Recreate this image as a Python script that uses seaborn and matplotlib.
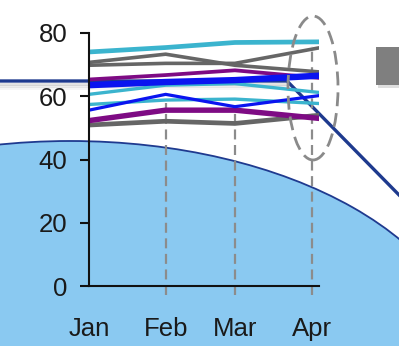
import pandas as pd
import matplotlib
matplotlib.use("Agg")
import matplotlib.pyplot as plt
from matplotlib.patches import Ellipse, Rectangle
from matplotlib.lines import Line2D
import seaborn as sns

# ---- data -------------------------------------------------------------
dates = pd.to_datetime(["2021-01-01", "2021-02-01", "2021-03-01", "2021-04-04"])
month_ticks = pd.to_datetime(["2021-01-01", "2021-02-01", "2021-03-01", "2021-04-01"])
month_labels = ["Jan", "Feb", "Mar", "Apr"]

gray_low = [50.9, 52.1, 51.4, 54.0]
gray_a = [70.7, 73.3, 69.8, 67.7]
gray_b = [69.8, 70.4, 70.4, 75.3]
cyan_top = [74.0, 75.4, 77.0, 77.2]
cyan_mid = [60.6, 63.5, 64.0, 61.2]
cyan_low = [57.4, 58.8, 59.1, 57.7]
purple_top = [65.3, 66.7, 68.2, 65.8]
purple_low = [52.3, 55.6, 55.6, 53.0]
blue_low = [55.6, 60.6, 56.7, 60.2]
blue_top = [63.5, 64.5, 65.1, 66.5]

# value at which each dashed month marker stops (Feb, Mar, Apr)
drop_tops = [58.0, 55.0, 76.0]

series = {
    "gray_low": gray_low, "gray_a": gray_a, "gray_b": gray_b,
    "cyan_top": cyan_top, "cyan_mid": cyan_mid, "cyan_low": cyan_low,
    "purple_top": purple_top, "purple_low": purple_low,
    "blue_low": blue_low, "blue_top": blue_top,
}
GRAY, CYAN, PURPLE, BLUE = "#666666", "#3BB4CE", "#7E0B84", "#0A14F0"
palette = {
    "gray_low": GRAY, "gray_a": GRAY, "gray_b": GRAY,
    "cyan_top": CYAN, "cyan_mid": CYAN, "cyan_low": CYAN,
    "purple_top": PURPLE, "purple_low": PURPLE,
    "blue_low": BLUE, "blue_top": BLUE,
}
widths = {
    "gray_low": 3.4, "gray_a": 2.6, "gray_b": 2.6,
    "cyan_top": 3.4, "cyan_mid": 2.4, "cyan_low": 2.4,
    "purple_top": 2.7, "purple_low": 3.9,
    "blue_low": 2.3, "blue_top": 4.6,
}

df = pd.concat(
    [pd.DataFrame({"date": dates, "value": v, "series": k}) for k, v in series.items()],
    ignore_index=True,
)

# ---- figure -----------------------------------------------------------
sns.set_style("white")
plt.rcParams["font.family"] = ["Liberation Sans", "DejaVu Sans"]

W, H = 399, 346
fig = plt.figure(figsize=(W / 100, H / 100), dpi=100)
fig.patch.set_facecolor("white")


def fx(x):
    return x / W


def fy(y):
    return 1 - y / H


# large light-blue disc behind the chart
fig.add_artist(Ellipse((fx(70), fy(368)), 800 / W, 454 / H, transform=fig.transFigure,
                       facecolor="#8AC9F1", edgecolor="#1F3A8F", lw=1.3, zorder=-3))

# navy guide line with a soft shadow under its level part
for off, a in [(3, 0.22), (5, 0.14), (7, 0.07)]:
    fig.add_artist(Line2D([fx(0), fx(287)], [fy(81 + off), fy(81 + off)],
                          transform=fig.transFigure, color="#808080", lw=2.2,
                          alpha=a, zorder=-2))
fig.add_artist(Line2D([fx(0), fx(287), fx(402)], [fy(81), fy(81), fy(198)],
                      transform=fig.transFigure, color="#1E3A8E", lw=2.4,
                      solid_joinstyle="miter", zorder=-1))

ax = fig.add_axes([fx(89), fy(286), (319 - 89) / W, (286 - 33) / H])
ax.patch.set_alpha(0)

ax.vlines(month_ticks[1:], -3, drop_tops, colors="#8C8C8C", lw=1.6,
          linestyles=(0, (4.5, 2.5)), clip_on=False, zorder=1)

sns.lineplot(data=df, x="date", y="value", hue="series", palette=palette,
             size="series", sizes=widths, hue_order=list(series),
             size_order=list(series), legend=False, sort=False, ax=ax, zorder=2)

ax.set_xlim(dates[0], dates[-1])
ax.set_ylim(0, 80)
ax.set_xticks(month_ticks)
ax.set_xticklabels(month_labels)
ax.set_yticks([0, 20, 40, 60, 80])
ax.set_xlabel("")
ax.set_ylabel("")

for s in ["top", "right"]:
    ax.spines[s].set_visible(False)
for s in ["left", "bottom"]:
    ax.spines[s].set_color("#111111")
    ax.spines[s].set_linewidth(1.5)

ax.tick_params(axis="y", direction="out", length=6.5, width=1.5, color="#111111",
               pad=9, labelsize=18.5, labelcolor="#1a1a1a", left=True)
ax.tick_params(axis="x", length=0, pad=22, labelsize=18.5, labelcolor="#1a1a1a")

# dashed oval around the April values
fig.add_artist(Ellipse((fx(313), fy(88)), 50 / W, 144 / H, transform=fig.transFigure,
                       fill=False, edgecolor="#8A8A8A", lw=2.0,
                       linestyle=(0, (5, 2.5)), zorder=3))

# grey block at the right edge
fig.add_artist(Rectangle((fx(378), fy(88)), 30 / W, 38 / H, transform=fig.transFigure,
                         facecolor="#C8C8C8", edgecolor="none", alpha=0.6, zorder=3))
fig.add_artist(Rectangle((fx(376), fy(85)), 30 / W, 38 / H, transform=fig.transFigure,
                         facecolor="#7F7F7F", edgecolor="none", zorder=4))

fig.savefig("out.png", dpi=100)
